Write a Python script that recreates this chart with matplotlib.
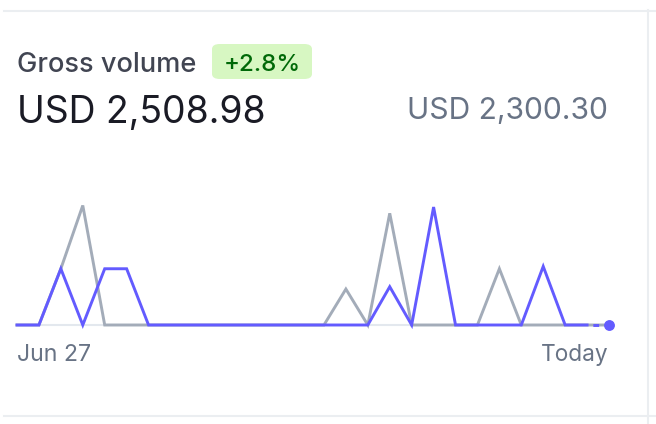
import numpy as np
import matplotlib.pyplot as plt
from matplotlib.patches import FancyBboxPatch

plt.rcParams['font.family'] = ['Inter', 'DejaVu Sans']

# daily gross volume, Jun 27 .. today (USD)
days = np.arange(28)
current = [0, 0, 360, 0, 360, 360, 0, 0, 0, 0, 0, 0, 0, 0,
           0, 0, 0, 245, 0, 755, 0, 0, 0, 0, 375, 0, 0, 0]
previous = [0, 0, 360, 765, 0, 0, 0, 0, 0, 0, 0, 0, 0, 0,
            0, 230, 0, 715, 0, 0, 0, 0, 360, 0, 0, 0, 0, 0]
title = 'Gross volume'
change = '+2.8%'
total_now = 'USD 2,508.98'
total_prev = 'USD 2,300.30'
x_labels = ['Jun 27', 'Today']

W, H = 656, 424
fig = plt.figure(figsize=(W / 100, H / 100), dpi=100)
fig.patch.set_facecolor('white')

def fx(px):
    return px / W

def fy(py):
    return 1 - py / H

# frame lines
border = '#ebeef1'
fig.add_artist(plt.Line2D([fx(4), 1], [fy(10.5), fy(10.5)], color=border, lw=1.5))
fig.add_artist(plt.Line2D([fx(4), 1], [fy(416), fy(416)], color=border, lw=1.5))
fig.add_artist(plt.Line2D([fx(648), fx(648)], [fy(10), 0], color=border, lw=1.5))

# header texts
fig.text(fx(17), fy(72), title, fontsize=19.6, color='#414552', va='baseline',
         fontweight='medium')
badge = FancyBboxPatch((fx(212), fy(79)), fx(100), 35 / H,
                       boxstyle='round,pad=0,rounding_size=0.012',
                       transform=fig.transFigure, fc='#d7f7c2', ec='none')
fig.add_artist(badge)
fig.text(fx(262), fy(71), change, fontsize=17.3, color='#006908',
         ha='center', va='baseline', fontweight='medium')
fig.text(fx(17), fy(123), total_now, fontsize=26.9, color='#1a1b25', va='baseline')
fig.text(fx(608), fy(119), total_prev, fontsize=21.6, color='#687385',
         ha='right', va='baseline')

# chart
ax = fig.add_axes([fx(17), fy(325), fx(609) - fx(17), 130 / H])
ax.set_xlim(0, 27)
ax.set_ylim(0, 130 * 6.4)
ax.axis('off')

blue = '#635bff'
gray = '#a3acb9'
lw = 2.1
ax.plot([0, 27], [0, 0], color='#e3e8ee', lw=1.5, clip_on=False, zorder=1)
ax.plot(days, previous, color=gray, lw=lw, clip_on=False, zorder=2,
        solid_joinstyle='miter')
ax.plot(days[:27], current[:27], color=blue, lw=lw, clip_on=False, zorder=3,
        solid_joinstyle='miter')
ax.plot(days[26:], current[26:], color=blue, lw=lw, clip_on=False, zorder=3,
        linestyle=(2.0, (2.0, 2.0)))
ax.plot(days[-1], current[-1], 'o', color=blue, ms=6.8, clip_on=False, zorder=4)

fig.text(fx(17), fy(361), x_labels[0], fontsize=16.7, color='#687385', va='baseline')
fig.text(fx(608), fy(361), x_labels[1], fontsize=16.3, color='#687385',
         ha='right', va='baseline')

fig.savefig('out.png', dpi=100)
